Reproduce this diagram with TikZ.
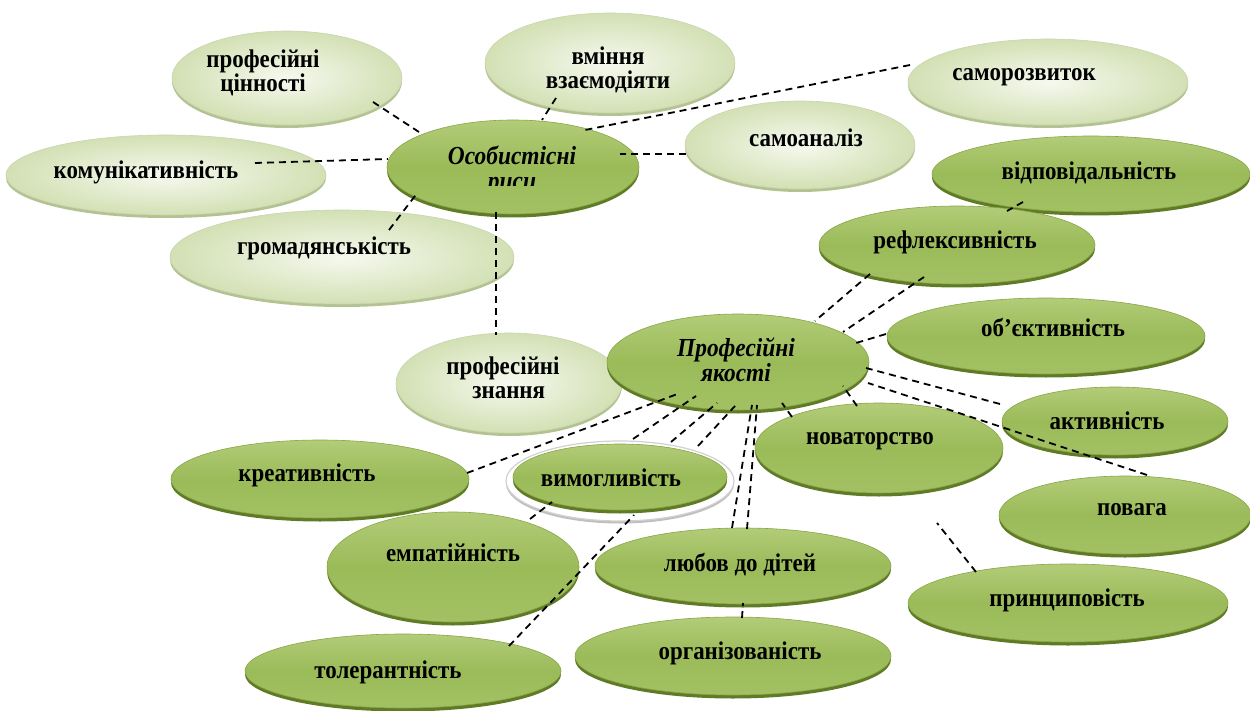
\documentclass[tikz,border=0pt]{standalone}
\usepackage{fontspec}
\setmainfont{Liberation Serif}[FakeStretch=0.9]
\usetikzlibrary{shapes.geometric,shadows}
\definecolor{dgreen}{HTML}{9BBB59}
\definecolor{dtop}{HTML}{B2CC78}
\definecolor{dbot}{HTML}{A3C163}
\definecolor{drim}{HTML}{88A648}
\definecolor{dshadow}{HTML}{5F7B25}
\definecolor{lin}{HTML}{F6F9EF}
\definecolor{lout}{HTML}{D3E0B4}
\definecolor{lrim}{HTML}{B3C290}
\tikzset{
  lell/.style={ellipse, inner sep=0pt, draw=lrim!70, line width=0.6pt,
    inner color=lin, outer color=lout,
    general shadow={fill=lrim, shadow xshift=0pt, shadow yshift=-3pt}},
  dell/.style={ellipse, inner sep=0pt, draw=drim, line width=0.6pt,
    top color=dtop, bottom color=dbot, middle color=dgreen,
    general shadow={fill=dshadow, shadow xshift=0pt, shadow yshift=-3.5pt}},
  ringell/.style={ellipse, inner sep=0pt, draw=black!18, line width=1.2pt, fill=white,
    general shadow={fill=black!25, shadow xshift=0pt, shadow yshift=-2.5pt}},
  lbl/.style={font=\fontsize{25.5}{23.5}\selectfont\bfseries, align=center, inner sep=0pt},
  hlbl/.style={font=\fontsize{26}{25}\selectfont\bfseries\itshape, align=center, inner sep=0pt},
  dl/.style={dash pattern=on 7pt off 5pt, line width=1.8pt, black}
}
\begin{document}
\begin{tikzpicture}[x=1pt,y=-1pt]
\fill[white] (0,0) rectangle (1250,711);
\useasboundingbox (0,0) rectangle (1250,711);

% light ellipses
\node[lell, minimum width=230pt, minimum height=94pt] (cinn) at (287,78) {};
\node[lbl] (cinn-t) at (263,73) {професійні\\цінності};
\node[lell, minimum width=250pt, minimum height=100pt] (vmin) at (610,63) {};
\node[lbl] (vmin-t) at (608,70) {вміння\\взаємодіяти};
\node[lell, minimum width=280pt, minimum height=86pt] (samroz) at (1048,82) {};
\node[lbl] (samroz-t) at (1024,77) {саморозвиток};
\node[lell, minimum width=230pt, minimum height=88pt] (samoan) at (800,145) {};
\node[lbl] (samoan-t) at (806,138) {самоаналіз};
\node[lell, minimum width=320pt, minimum height=80pt] (komun) at (166,175) {};
\node[lbl] (komun-t) at (146,172) {комунікативність};
\node[lell, minimum width=344pt, minimum height=94pt] (hromad) at (342,257) {};
\node[lbl] (hromad-t) at (324,248) {громадянськість};

% Osobystisni rysy
\node[dell, minimum width=252pt, minimum height=94pt] (osob) at (513,167) {};
\begin{scope}
\clip (380,120) rectangle (650,186);
\node[hlbl] (osob-t) at (512,170) {Особистісні\\риси};
\end{scope}

\node[lell, minimum width=226pt, minimum height=100pt] (znan) at (509,383) {};
\node[lbl] (znan-t) at (503,378) {професійні\\\ \ знання};

% Profesiini yakosti
\node[dell, minimum width=262pt, minimum height=96pt] (prof) at (738,362) {};
\node[hlbl] (prof-t) at (736,360) {Професійні\\якості};

% dark ellipses
\node[dell, minimum width=318pt, minimum height=76pt] (vidp) at (1091,174) {};
\node[lbl] (vidp-t) at (1089,173) {відповідальність};
\node[dell, minimum width=276pt, minimum height=78pt] (refl) at (957,245) {};
\node[lbl] (refl-t) at (955,242) {рефлексивність};
\node[dell, minimum width=318pt, minimum height=76pt] (obj) at (1046,336) {};
\node[lbl] (obj-t) at (1053,327) {об’єктивність};
\node[dell, minimum width=226pt, minimum height=68pt] (aktyv) at (1115,421) {};
\node[lbl] (aktyv-t) at (1107,421) {активність};
\node[dell, minimum width=248pt, minimum height=90pt] (novat) at (879,448) {};
\node[lbl] (novat-t) at (870,441) {новаторство};
\node[dell, minimum width=252pt, minimum height=78pt] (povaha) at (1125,515) {};
\node[lbl] (povaha-t) at (1132,510) {повага};
\node[dell, minimum width=320pt, minimum height=78pt] (pryn) at (1068,603) {};
\node[lbl] (pryn-t) at (1067,600) {принциповість};
\node[dell, minimum width=298pt, minimum height=78pt] (kreat) at (320,479) {};
\node[lbl] (kreat-t) at (307,475) {креативність};
\node[ringell, minimum width=228pt, minimum height=80pt] (vymring) at (620,481) {};
\node[dell, minimum width=214pt, minimum height=66pt] (vymoh) at (620,477) {};
\node[lbl] (vymoh-t) at (611,478) {вимогливість};
\node[dell, minimum width=252pt, minimum height=110pt] (empat) at (453,567) {};
\node[lbl] (empat-t) at (453,553) {емпатійність};
\node[dell, minimum width=296pt, minimum height=76pt] (lyub) at (743,566) {};
\node[lbl] (lyub-t) at (740,565) {любов до дітей};
\node[dell, minimum width=316pt, minimum height=78pt] (orhan) at (733,656) {};
\node[lbl] (orhan-t) at (740,653) {організованість};
\node[dell, minimum width=316pt, minimum height=74pt] (toler) at (403,671) {};
\node[lbl] (toler-t) at (388,672) {толерантність};

% connector end points
\coordinate (cinn-c) at (373,102);  \coordinate (osob-c1) at (419,132);
\coordinate (komun-c) at (255,163); \coordinate (osob-c2) at (388,159);
\coordinate (hromad-c) at (389,230); \coordinate (osob-c3) at (418,192);
\coordinate (vmin-c) at (556,98);   \coordinate (osob-c4) at (542,120);
\coordinate (samroz-c) at (910,65); \coordinate (osob-c5) at (585,130);
\coordinate (samoan-c) at (686,154); \coordinate (osob-c6) at (620,154);
\coordinate (osob-c7) at (496,212); \coordinate (znan-c) at (496,335);
\coordinate (vidp-c) at (1023,202); \coordinate (refl-c0) at (1007,211);
\coordinate (refl-c1) at (870,274); \coordinate (prof-c1) at (815,321);
\coordinate (refl-c2) at (924,277); \coordinate (prof-c2) at (843,332);
\coordinate (obj-c) at (886,334);   \coordinate (prof-c3) at (856,343);
\coordinate (aktyv-c) at (1000,404); \coordinate (prof-c4) at (866,368);
\coordinate (povaha-c) at (1147,475); \coordinate (prof-c5) at (868,383);
\coordinate (novat-c1) at (857,406); \coordinate (prof-c6) at (843,386);
\coordinate (novat-c2) at (792,417); \coordinate (prof-c7) at (782,403);
\coordinate (kreat-c) at (467,473); \coordinate (prof-c8) at (680,393);
\coordinate (vymoh-c1) at (633,439); \coordinate (prof-c9) at (696,396);
\coordinate (vymoh-c2) at (671,442); \coordinate (prof-c10) at (717,403);
\coordinate (vymoh-c3) at (698,446); \coordinate (prof-c11) at (735,406);
\coordinate (empat-c) at (530,519); \coordinate (vymoh-c4) at (552,502);
\coordinate (toler-c) at (509,646); \coordinate (vymoh-c5) at (634,515);
\coordinate (lyub-c1) at (732,528); \coordinate (prof-c12) at (752,405);
\coordinate (lyub-c2) at (747,529); \coordinate (prof-c13) at (757,405);
\coordinate (orhan-c) at (742,618); \coordinate (lyub-c3) at (743,603);
\coordinate (pryn-c) at (976,572);  \coordinate (novat-c3) at (937,523);

% connectors
\draw[dl] (cinn-c) -- (osob-c1);
\draw[dl] (komun-c) -- (osob-c2);
\draw[dl] (hromad-c) -- (osob-c3);
\draw[dl] (vmin-c) -- (osob-c4);
\draw[dl] (samroz-c) -- (osob-c5);
\draw[dl] (samoan-c) -- (osob-c6);
\draw[dl] (osob-c7) -- (znan-c);
\draw[dl] (vidp-c) -- (refl-c0);
\draw[dl] (refl-c1) -- (prof-c1);
\draw[dl] (refl-c2) -- (prof-c2);
\draw[dl] (obj-c) -- (prof-c3);
\draw[dl] (aktyv-c) -- (prof-c4);
\draw[dl] (povaha-c) -- (prof-c5);
\draw[dl] (novat-c1) -- (prof-c6);
\draw[dl] (novat-c2) -- (prof-c7);
\draw[dl] (kreat-c) -- (prof-c8);
\draw[dl] (vymoh-c1) -- (prof-c9);
\draw[dl] (vymoh-c2) -- (prof-c10);
\draw[dl] (vymoh-c3) -- (prof-c11);
\draw[dl] (empat-c) -- (vymoh-c4);
\draw[dl] (toler-c) -- (vymoh-c5);
\draw[dl] (lyub-c1) -- (prof-c12);
\draw[dl] (lyub-c2) -- (prof-c13);
\draw[dl] (orhan-c) -- (lyub-c3);
\draw[dl] (pryn-c) -- (novat-c3);
\end{tikzpicture}
\end{document}
